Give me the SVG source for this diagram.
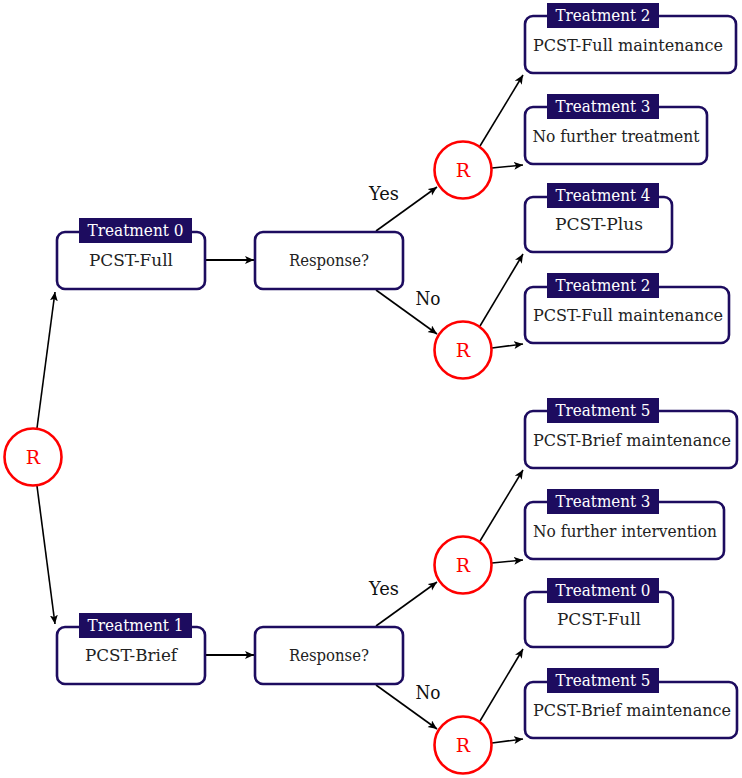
<svg xmlns="http://www.w3.org/2000/svg" width="742" height="778" viewBox="0 0 742 778">
<style>
.box{fill:#fff;stroke:#1d0c5f;stroke-width:2.6}
.tab{fill:#1d0c5f}
text{font-family:"DejaVu Serif","Liberation Serif",serif}
.tt{font-size:16px;fill:#fff;text-anchor:middle}
.bt{font-size:16px;fill:#222;text-anchor:middle}
.rc{fill:#fff;stroke:#ff0000;stroke-width:2.6}
.rt{font-size:19px;fill:#ff0000;text-anchor:middle}
.lb{font-size:19px;fill:#111;text-anchor:middle}
.c{stroke:#000;stroke-width:1.6;fill:none;marker-end:url(#ah)}
.c2{stroke:#000;stroke-width:2.2;fill:none;marker-end:url(#ah)}
</style>
<defs>
<marker id="ah" markerUnits="userSpaceOnUse" markerWidth="12" markerHeight="10" refX="9" refY="4" orient="auto" viewBox="0 0 12 10">
<path d="M0,0 L9,4 L0,8 L2.2,4 Z" fill="#000"/>
</marker>
</defs>
<rect width="742" height="778" fill="#fff"/>
<g id="connectors">
<line class="c" x1="37" y1="428" x2="55" y2="292"/>
<line class="c" x1="37" y1="486" x2="55" y2="624"/>
<line class="c2" x1="206" y1="260" x2="254" y2="260"/>
<line class="c" x1="376" y1="231" x2="437" y2="187"/>
<line class="c" x1="376" y1="290" x2="437" y2="334"/>
<line class="c" x1="480" y1="146" x2="523" y2="75"/>
<line class="c" x1="492" y1="168" x2="523" y2="165"/>
<line class="c" x1="480" y1="326" x2="523" y2="254"/>
<line class="c" x1="492" y1="348" x2="523" y2="344"/>
<line class="c2" x1="206" y1="655" x2="254" y2="655"/>
<line class="c" x1="376" y1="626" x2="437" y2="582"/>
<line class="c" x1="376" y1="685" x2="437" y2="729"/>
<line class="c" x1="480" y1="541" x2="523" y2="470"/>
<line class="c" x1="492" y1="563" x2="523" y2="560"/>
<line class="c" x1="480" y1="721" x2="523" y2="649"/>
<line class="c" x1="492" y1="743" x2="523" y2="739"/>
<text class="lb" x="384" y="200" textLength="30" lengthAdjust="spacingAndGlyphs">Yes</text>
<text class="lb" x="428" y="305" textLength="25" lengthAdjust="spacingAndGlyphs">No</text>
<text class="lb" x="384" y="595" textLength="30" lengthAdjust="spacingAndGlyphs">Yes</text>
<text class="lb" x="428" y="699" textLength="25" lengthAdjust="spacingAndGlyphs">No</text>
</g>
<g id="r0"><circle class="rc" cx="33" cy="457" r="28.5"/><text class="rt" x="33" y="464">R</text></g>
<g id="t0"><rect class="box" x="57" y="232" width="148" height="57" rx="8"/><rect class="tab" x="79" y="218" width="113" height="25"/><text class="tt" x="135.5" y="236" textLength="96" lengthAdjust="spacingAndGlyphs">Treatment 0</text><text class="bt" x="131" y="266" textLength="84" lengthAdjust="spacingAndGlyphs">PCST-Full</text></g>
<g id="resp0"><rect class="box" x="255" y="232" width="148" height="57" rx="8"/><text class="bt" x="329" y="266" textLength="80" lengthAdjust="spacingAndGlyphs">Response?</text></g>
<g id="ry0"><circle class="rc" cx="463" cy="170" r="28.5"/><text class="rt" x="463" y="177">R</text></g>
<g id="rn0"><circle class="rc" cx="463" cy="350" r="28.5"/><text class="rt" x="463" y="357">R</text></g>
<g id="t2a"><rect class="box" x="525" y="16" width="211" height="57" rx="8"/><rect class="tab" x="547" y="3" width="112" height="25"/><text class="tt" x="603" y="21" textLength="95" lengthAdjust="spacingAndGlyphs">Treatment 2</text><text class="bt" x="628" y="51" textLength="190" lengthAdjust="spacingAndGlyphs">PCST-Full maintenance</text></g>
<g id="t3a"><rect class="box" x="525" y="107" width="182" height="57" rx="8"/><rect class="tab" x="547" y="94" width="112" height="25"/><text class="tt" x="603" y="112" textLength="95" lengthAdjust="spacingAndGlyphs">Treatment 3</text><text class="bt" x="616" y="142" textLength="167" lengthAdjust="spacingAndGlyphs">No further treatment</text></g>
<g id="t4"><rect class="box" x="525" y="197" width="147" height="55" rx="8"/><rect class="tab" x="547" y="183" width="112" height="25"/><text class="tt" x="603" y="201" textLength="95" lengthAdjust="spacingAndGlyphs">Treatment 4</text><text class="bt" x="599" y="230" textLength="88" lengthAdjust="spacingAndGlyphs">PCST-Plus</text></g>
<g id="t2b"><rect class="box" x="525" y="287" width="204" height="56" rx="8"/><rect class="tab" x="547" y="273" width="112" height="25"/><text class="tt" x="603" y="291" textLength="95" lengthAdjust="spacingAndGlyphs">Treatment 2</text><text class="bt" x="628" y="321" textLength="190" lengthAdjust="spacingAndGlyphs">PCST-Full maintenance</text></g>
<g id="t1"><rect class="box" x="57" y="627" width="148" height="57" rx="8"/><rect class="tab" x="79" y="613" width="113" height="25"/><text class="tt" x="135.5" y="631" textLength="96" lengthAdjust="spacingAndGlyphs">Treatment 1</text><text class="bt" x="131" y="661" textLength="92" lengthAdjust="spacingAndGlyphs">PCST-Brief</text></g>
<g id="resp1"><rect class="box" x="255" y="627" width="148" height="57" rx="8"/><text class="bt" x="329" y="661" textLength="80" lengthAdjust="spacingAndGlyphs">Response?</text></g>
<g id="ry1"><circle class="rc" cx="463" cy="565" r="28.5"/><text class="rt" x="463" y="572">R</text></g>
<g id="rn1"><circle class="rc" cx="463" cy="745" r="28.5"/><text class="rt" x="463" y="752">R</text></g>
<g id="t5a"><rect class="box" x="525" y="411" width="212" height="57" rx="8"/><rect class="tab" x="547" y="398" width="112" height="25"/><text class="tt" x="603" y="416" textLength="95" lengthAdjust="spacingAndGlyphs">Treatment 5</text><text class="bt" x="632" y="446" textLength="198" lengthAdjust="spacingAndGlyphs">PCST-Brief maintenance</text></g>
<g id="t3b"><rect class="box" x="525" y="502" width="199" height="57" rx="8"/><rect class="tab" x="547" y="489" width="112" height="25"/><text class="tt" x="603" y="507" textLength="95" lengthAdjust="spacingAndGlyphs">Treatment 3</text><text class="bt" x="625" y="537" textLength="184" lengthAdjust="spacingAndGlyphs">No further intervention</text></g>
<g id="t0b"><rect class="box" x="525" y="592" width="148" height="55" rx="8"/><rect class="tab" x="547" y="578" width="112" height="25"/><text class="tt" x="603" y="596" textLength="95" lengthAdjust="spacingAndGlyphs">Treatment 0</text><text class="bt" x="599" y="625" textLength="84" lengthAdjust="spacingAndGlyphs">PCST-Full</text></g>
<g id="t5b"><rect class="box" x="525" y="682" width="212" height="56" rx="8"/><rect class="tab" x="547" y="668" width="112" height="25"/><text class="tt" x="603" y="686" textLength="95" lengthAdjust="spacingAndGlyphs">Treatment 5</text><text class="bt" x="632" y="716" textLength="198" lengthAdjust="spacingAndGlyphs">PCST-Brief maintenance</text></g>
</svg>
